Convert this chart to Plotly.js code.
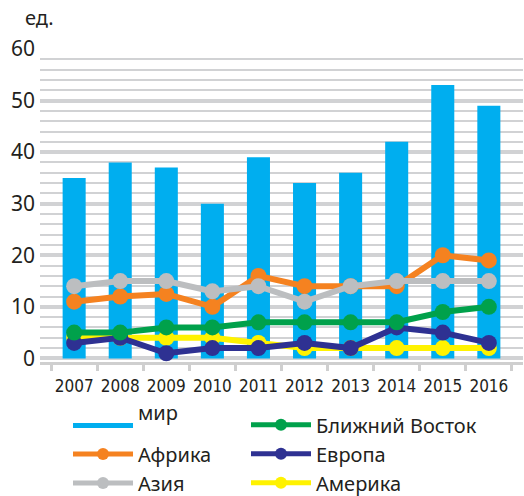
<!DOCTYPE html>
<html><head><meta charset="utf-8">
<script src="https://cdn.plot.ly/plotly-3.0.1.min.js"></script>
<style>html,body{margin:0;padding:0;background:#fff}#chart{width:524px;height:496px}</style>
</head><body><div id="chart"></div>
<script>
const years = ['2007','2008','2009','2010','2011','2012','2013','2014','2015','2016'];
const world = [35,38,37,30,39,34,36,42,53,49];
const africa = [11,12,12.5,10,16,14,14,14,20,19];
const asia = [14,15,15,13,14,11,14,15,15,15];
const middleEast = [5,5,6,6,7,7,7,7,9,10];
const europe = [3,4,1,2,2,3,2,6,5,3];
const america = [4,4,4,4,3,2,2,2,2,2];

const FONT = 'Noto Sans, Open Sans, sans-serif';
const BLUE = '#00aeef';
function lineTrace(name, y, color, legend, rank){
  return {type:'scatter', mode:'lines+markers', name, x:years, y,
    line:{color, width:6}, marker:{color, size:16}, legend, legendrank:rank};
}
const data = [
  {type:'bar', name:'мир', x:years, y:world, marker:{color:BLUE}, showlegend:false},
  // legend entry for the bars (wide swatch like the original, label raised)
  {type:'scatter', mode:'lines', name:'мир<br> ', x:[null], y:[null], line:{color:BLUE, width:12},
    legend:'legend3', legendrank:1, hoverinfo:'skip'},
  lineTrace('Америка', america, '#fff200', 'legend2', 3),
  lineTrace('Европа', europe, '#2e3192', 'legend2', 2),
  lineTrace('Ближний Восток', middleEast, '#00a14b', 'legend2', 1),
  lineTrace('Африка', africa, '#f58220', 'legend', 2),
  lineTrace('Азия', asia, '#bcbec0', 'legend', 3)
];
const legendBase = {orientation:'v', y:-0.1385, yanchor:'top', xanchor:'left',
  itemwidth:60, itemsizing:'constant', font:{size:20, family:FONT}, traceorder:'normal',
  bgcolor:'rgba(0,0,0,0)'};
const layout = {
  width:524, height:496,
  margin:{l:40, r:1, t:49, b:134, autoexpand:false},
  paper_bgcolor:'#fff', plot_bgcolor:'#fff',
  font:{family:FONT, color:'#231f20', size:20},
  bargap:0.5,
  showlegend:true,
  legend:Object.assign({}, legendBase, {x:0.058, y:-0.2315}),
  legend2:Object.assign({}, legendBase, {x:0.4265}),
  legend3:Object.assign({}, legendBase, {x:0.058, y:-0.099}),
  xaxis:{type:'category', showgrid:false, showline:true, linecolor:'#cfcfcf', linewidth:3,
    ticks:'outside', tickson:'boundaries', ticklen:6, tickwidth:3, tickcolor:'#cfcfcf', tickangle:0,
    ticklabelstandoff:7,
    tickfont:{size:17, family:'Liberation Sans Narrow, DejaVu Sans Condensed, sans-serif'}},
  yaxis:{range:[-0.7,60], tickvals:[0,10,20,30,40,50,60], showgrid:true, gridcolor:'#d1d2d4', gridwidth:4,
    zeroline:false, showline:false, ticks:'', tickfont:{size:21}, ticklabelstandoff:4,
    minor:{dtick:2, tick0:0, showgrid:true, gridcolor:'#d1d2d4', gridwidth:2}},
  annotations:[{text:'ед.', xref:'paper', yref:'paper', x:-0.035, y:1.1, xanchor:'left', yanchor:'middle',
    showarrow:false, font:{size:20}}]
};
Plotly.newPlot('chart', data, layout, {displayModeBar:false});
</script></body></html>
